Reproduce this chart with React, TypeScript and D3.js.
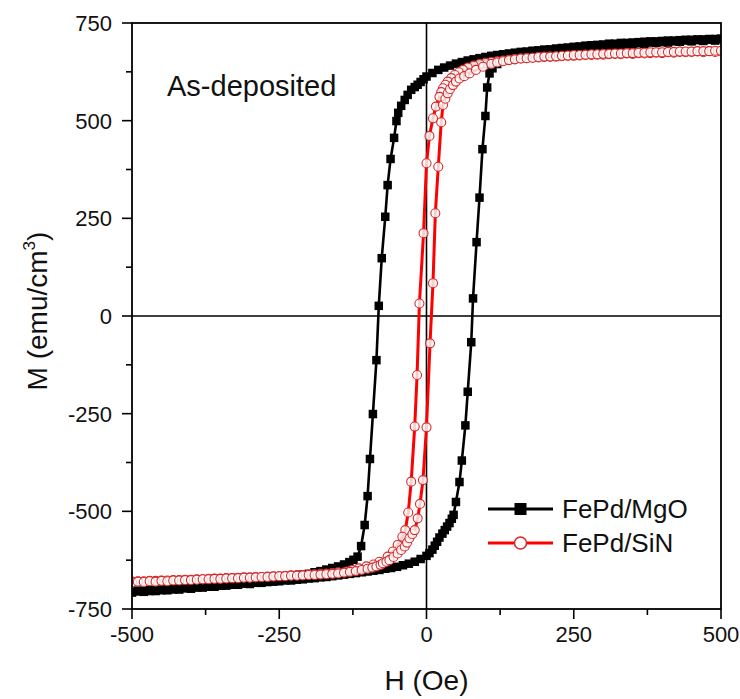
import React from "react";
import * as d3 from "d3";

// ---------- data ----------
const xTicks = [-500, -250, 0, 250, 500];
const xMinor = [-375, -125, 125, 375];
const yTicks = [-750, -500, -250, 0, 250, 500, 750];
const yMinor = [-625, -375, -125, 125, 375, 625];
const seriesNames = ["FePd/MgO", "FePd/SiN"];

// FePd/MgO, descending branch (H: +500 -> -500)
const mgoDownH = [
  500, 490, 480, 470, 460, 450, 440, 430, 420, 410, 400, 390, 380, 370, 360, 350, 340, 330, 320, 310,
  300, 290, 280, 270, 260, 250, 240, 230, 220, 210, 200, 190, 180, 170, 160, 150,
  140, 130, 120, 110, 100, 90, 80, 70, 60, 50, 40, 30, 20, 10, 0,
  -5, -10, -15, -20, -26, -32, -37, -43, -48,
  -51, -55, -61, -66, -70, -76, -81, -85, -91, -96, -100, -105, -111, -117,
  -124, -131, -140, -150,
  -160, -170, -180, -190, -200, -210, -220, -230, -240, -250, -260, -270, -280, -290, -300, -310, -320,
  -330, -340, -350, -360, -370, -380, -390, -400, -410, -420, -430, -440, -450, -460, -470, -480, -490, -500,
];
const mgoDownM = [
  708, 705, 707, 704, 706, 703, 705, 702, 703, 700, 701, 699, 700, 697, 698, 695, 696, 694, 694, 692,
  693, 690, 691, 689, 688, 687, 686, 685, 684, 682, 682, 680, 679, 677, 676, 674,
  672, 670, 668, 666, 663, 660, 657, 654, 650, 646, 641, 636, 630, 622, 613,
  606, 599, 592, 586, 579, 566, 553, 538, 520,
  499, 456, 402, 335, 254, 148, 26, -113, -251, -366, -461, -535, -589, -616,
  -624, -630, -636, -641,
  -645, -649, -653, -656, -660, -662, -666, -668, -671, -673, -675, -677, -679, -680, -683, -684, -686,
  -687, -689, -690, -692, -693, -694, -695, -697, -697, -699, -700, -701, -702, -702, -704, -704, -705, -706,
];

// FePd/MgO, ascending branch (H: -500 -> +500)
const mgoUpH = [
  -500, -490, -480, -470, -460, -450, -440, -430, -420, -410, -400, -390, -380, -370, -360, -350, -340,
  -330, -320, -310, -300, -290, -280, -270, -260, -250, -240, -230, -220, -210, -200, -190, -180, -170,
  -160, -150, -140, -130, -120, -110, -100, -90, -80, -70, -60, -50, -40, -30, -20, -10,
  0, 5, 10, 14, 18, 22, 27, 31, 35, 39, 43, 46, 50, 56, 60, 66, 70, 76, 79, 85, 90, 95, 100, 103, 107,
  112, 120, 130, 140,
  150, 160, 170, 180, 190, 200, 210, 220, 230, 240, 250, 260, 270, 280, 290, 300, 310, 320, 330, 340,
  350, 360, 370, 380, 390, 400, 410, 420, 430, 440, 450, 460, 470, 480, 490, 500,
];
const mgoUpM = [
  -708, -703, -706, -702, -704, -700, -702, -698, -700, -696, -698, -694, -695, -692, -693, -690, -690,
  -688, -688, -685, -686, -683, -683, -681, -680, -679, -677, -677, -675, -674, -672, -671, -669, -668,
  -666, -664, -662, -660, -658, -656, -654, -652, -650, -647, -645, -642, -638, -634, -629, -622,
  -614, -607, -598, -588, -578, -567, -557, -548, -539, -530, -519, -509, -476, -425, -370, -280, -194,
  -67, 45, 189, 303, 427, 512, 585, 621,
  634, 645, 654, 661,
  667, 670, 673, 676, 678, 680, 682, 684, 686, 687, 689, 690, 692, 693, 694, 695, 697, 697, 699, 699,
  700, 701, 702, 703, 703, 704, 705, 705, 706, 707, 707, 708, 708, 709, 709, 710,
];

// FePd/SiN, descending branch (H: +500 -> -500)
const sinDownH = [
  500, 490, 480, 470, 460, 450, 440, 430, 420, 410, 400, 390, 380, 370, 360, 350, 340, 330, 320, 310,
  300, 290, 280, 270, 260, 250, 240, 230, 220, 210, 200, 190, 180, 170, 160, 150,
  140, 130, 120, 110, 100, 90, 80, 70, 62, 55, 48, 42, 36, 32, 28, 25, 22, 16, 11, 5, 0,
  -5, -12, -16, -20, -26, -31, -36, -41, -49, -57, -66, -80, -90, -102, -115, -126, -136, -150,
  -160, -170, -180, -190, -200, -210, -220, -230, -240, -250, -260, -270, -280, -290, -300, -310, -320,
  -330, -340, -350, -360, -370, -380, -390, -400, -410, -420, -430, -440, -450, -460, -470, -480, -490, -500,
];
const sinDownM = [
  677, 676, 678, 675, 677, 676, 675, 676, 674, 675, 673, 674, 673, 672, 673, 671, 672, 670, 671, 670,
  669, 669, 668, 668, 667, 666, 666, 665, 664, 664, 663, 662, 661, 660, 659, 658,
  656, 654, 652, 650, 648, 645, 641, 636, 630, 624, 617, 609, 600, 592, 583, 573, 561, 536, 506, 461, 391,
  212, 32, -151, -283, -424, -503, -548, -565, -586, -603, -616, -629, -636, -641, -646, -650, -654, -656,
  -658, -659, -660, -661, -662, -663, -663, -664, -665, -666, -666, -667, -668, -668, -669, -669, -670,
  -671, -671, -672, -672, -673, -674, -674, -675, -675, -676, -676, -677, -677, -678, -678, -679, -679, -680,
];

// FePd/SiN, ascending branch (H: -500 -> +500)
const sinUpH = [
  -500, -490, -480, -470, -460, -450, -440, -430, -420, -410, -400, -390, -380, -370, -360, -350, -340,
  -330, -320, -310, -300, -290, -280, -270, -260, -250, -240, -230, -220, -210, -200, -190, -180, -170, -160,
  -150, -140, -130, -120, -110, -100, -92, -85, -78, -74, -68, -63, -56, -49, -43, -37, -33, -29, -24, -20,
  -15, -11, -6, 0, 6, 11, 15, 20, 25, 28, 32, 36, 40, 45, 50, 56, 64, 73, 84, 96, 110, 120, 130, 140,
  150, 160, 170, 180, 190, 200, 210, 220, 230, 240, 250, 260, 270, 280, 290, 300, 310, 320, 330, 340,
  350, 360, 370, 380, 390, 400, 410, 420, 430, 440, 450, 460, 470, 480, 490, 500,
];
const sinUpM = [
  -682, -680, -681, -679, -680, -678, -679, -677, -677, -676, -676, -675, -674, -674, -673, -673, -672,
  -671, -671, -670, -670, -669, -668, -668, -667, -666, -666, -665, -665, -664, -663, -663, -662, -661, -660,
  -659, -657, -655, -653, -650, -647, -644, -641, -637, -633, -629, -625, -617, -608, -599, -590, -580, -569, -558, -548,
  -518, -481, -420, -285, -70, 84, 263, 382, 496, 540, 556, 570, 581, 591, 600, 608, 614, 621, 630, 638, 645, 649, 652, 655,
  657, 659, 660, 661, 663, 664, 664, 665, 666, 667, 668, 668, 669, 670, 670, 671, 671, 672, 672, 673,
  673, 674, 674, 675, 675, 675, 676, 676, 677, 677, 677, 678, 678, 678, 679, 679,
];

// ---------- layout ----------
const W = 740;
const H = 699;
const left = 132;
const right = 721;
const top = 23;
const bottom = 609;
const FONT = "'Liberation Sans', Arial, Helvetica, sans-serif";

type Pt = [number, number];
const zip = (hs: number[], ms: number[]): Pt[] => hs.map((h, i) => [h, ms[i]] as Pt);

export default function App() {
  const x = d3.scaleLinear().domain([-500, 500]).range([left, right]);
  const y = d3.scaleLinear().domain([-750, 750]).range([bottom, top]);
  const line = d3
    .line<Pt>()
    .x((d) => x(d[0]))
    .y((d) => y(d[1]));

  const mgo = [...zip(mgoDownH, mgoDownM), ...zip(mgoUpH, mgoUpM)];
  const sin = [...zip(sinDownH, sinDownM), ...zip(sinUpH, sinUpM)];

  const sq = 8.5;
  const cr = 4.5;
  const red = "#ff0000";
  const circleStroke = "#d42a2a";

  const legendY = [509, 543];

  return (
    <svg
      width={W}
      height={H}
      style={{ position: "absolute", left: 0, top: 0, background: "#fff" }}
      fontFamily={FONT}
    >
      <rect x={0} y={0} width={W} height={H} fill="#fff" />
      <defs>
        <clipPath id="plotclip">
          <rect x={left} y={top} width={right - left} height={bottom - top} />
        </clipPath>
      </defs>

      {/* zero lines */}
      <line x1={left} x2={right} y1={y(0)} y2={y(0)} stroke="#000" strokeWidth={1.6} />
      <line x1={x(0)} x2={x(0)} y1={top} y2={bottom} stroke="#000" strokeWidth={1.6} />

      <g clipPath="url(#plotclip)">
        {/* MgO */}
        <path d={line(mgo) || ""} fill="none" stroke="#000" strokeWidth={2.6} />
        {mgo.map((d, i) => (
          <rect
            key={"m" + i}
            x={x(d[0]) - sq / 2}
            y={y(d[1]) - sq / 2}
            width={sq}
            height={sq}
            fill="#000"
          />
        ))}
        {/* SiN */}
        <path d={line(sin) || ""} fill="none" stroke={red} strokeWidth={3} />
        {sin.map((d, i) => (
          <circle
            key={"s" + i}
            cx={x(d[0])}
            cy={y(d[1])}
            r={cr}
            fill="#fff"
            fillOpacity={0.8}
            stroke={circleStroke}
            strokeWidth={1.1}
          />
        ))}
      </g>

      {/* frame */}
      <rect
        x={left}
        y={top}
        width={right - left}
        height={bottom - top}
        fill="none"
        stroke="#000"
        strokeWidth={1.8}
      />

      {/* x axis ticks */}
      {xTicks.map((t) => (
        <g key={"xt" + t}>
          <line x1={x(t)} x2={x(t)} y1={bottom} y2={bottom + 10} stroke="#000" strokeWidth={1.6} />
          <text x={x(t)} y={bottom + 33} fontSize={22} textAnchor="middle" fill="#111">
            {String(t)}
          </text>
        </g>
      ))}
      {xMinor.map((t) => (
        <line key={"xm" + t} x1={x(t)} x2={x(t)} y1={bottom} y2={bottom + 6} stroke="#000" strokeWidth={1.6} />
      ))}

      {/* y axis ticks */}
      {yTicks.map((t) => (
        <g key={"yt" + t}>
          <line x1={left - 10} x2={left} y1={y(t)} y2={y(t)} stroke="#000" strokeWidth={1.6} />
          <text x={left - 20} y={y(t) + 8} fontSize={22} textAnchor="end" fill="#111">
            {String(t)}
          </text>
        </g>
      ))}
      {yMinor.map((t) => (
        <line key={"ym" + t} x1={left - 6} x2={left} y1={y(t)} y2={y(t)} stroke="#000" strokeWidth={1.6} />
      ))}

      {/* axis titles */}
      <text x={(left + right) / 2} y={690} fontSize={28} textAnchor="middle" fill="#111">
        H (Oe)
      </text>
      <text transform={`translate(47, 311) rotate(-90)`} fontSize={28} textAnchor="middle" fill="#111">
        M (emu/cm<tspan dy={-12} fontSize={17}>3</tspan>
        <tspan dy={12}>)</tspan>
      </text>

      {/* annotation */}
      <text x={167} y={96} fontSize={29} fill="#111">
        As-deposited
      </text>

      {/* legend */}
      <g>
        <line x1={488} x2={553} y1={legendY[0]} y2={legendY[0]} stroke="#000" strokeWidth={3} />
        <rect x={520.5 - 6} y={legendY[0] - 6} width={12} height={12} fill="#000" />
        <text x={562} y={legendY[0] + 9} fontSize={26} fill="#111">
          {seriesNames[0]}
        </text>
        <line x1={488} x2={553} y1={legendY[1]} y2={legendY[1]} stroke={red} strokeWidth={3} />
        <circle cx={520.5} cy={legendY[1]} r={6} fill="#fff" stroke={circleStroke} strokeWidth={1.5} />
        <text x={562} y={legendY[1] + 9} fontSize={26} fill="#111">
          {seriesNames[1]}
        </text>
      </g>
    </svg>
  );
}
